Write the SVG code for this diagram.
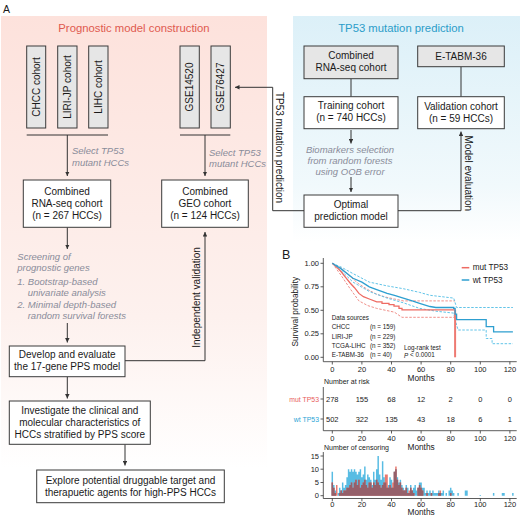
<svg xmlns="http://www.w3.org/2000/svg" width="520" height="519" viewBox="0 0 520 519">
<defs>
<linearGradient id="gPink" x1="0" y1="0" x2="0" y2="1">
<stop offset="0" stop-color="#fde2dc"/>
<stop offset="0.6" stop-color="#fdf1ee"/>
<stop offset="0.9" stop-color="#ffffff"/>
</linearGradient>
<linearGradient id="gBlue" x1="0" y1="0" x2="0" y2="1">
<stop offset="0" stop-color="#dcf0f8"/>
<stop offset="0.75" stop-color="#f1f9fc"/>
<stop offset="1" stop-color="#ffffff"/>
</linearGradient>
<marker id="ar" viewBox="0 0 6 6" refX="6" refY="3" markerWidth="4.5" markerHeight="4.5" markerUnits="userSpaceOnUse" orient="auto">
<path d="M0,0L6,3L0,6z" fill="#333"/>
</marker>
<style>
.box{fill:#fff;stroke:#3a3a3a;stroke-width:1}
.gbox{fill:#e6e6e6;stroke:#3a3a3a;stroke-width:1}
.t{font-family:"Liberation Sans",Arial,sans-serif;font-size:10px;fill:#1a1a1a;text-anchor:middle;dominant-baseline:central}
.it{font-style:italic;fill:#8a8c9a;font-size:9.5px}
.l{text-anchor:start}
.r{text-anchor:end}
.ln{stroke:#333;stroke-width:1;fill:none}
.ax{stroke:#333;stroke-width:0.8;fill:none}
.s{font-size:7.5px}
.xs{font-size:6.3px}
</style>
</defs>

<rect x="1" y="16" width="266" height="503" fill="url(#gPink)"/>
<rect x="293" y="16" width="227" height="226" fill="url(#gBlue)"/>

<text class="t l" x="3" y="9" style="font-size:10.5px">A</text>
<text class="t" x="134" y="28" style="font-size:11.3px;fill:#e05a4f">Prognostic model construction</text>
<text class="t" x="401" y="28" style="font-size:11.3px;fill:#2b9dc9">TP53 mutation prediction</text>

<g id="connectors">
<path class="ln" d="M26.7,135H108"/>
<path class="ln" d="M67.3,135V176" marker-end="url(#ar)"/>
<path class="ln" d="M180,135H230.3"/>
<path class="ln" d="M205,135V176" marker-end="url(#ar)"/>
<path class="ln" d="M67.3,227.3V249" marker-end="url(#ar)"/>
<path class="ln" d="M67.3,323V342.5" marker-end="url(#ar)"/>
<path class="ln" d="M125,360.7H205V232" marker-end="url(#ar)"/>
<path class="ln" d="M67.3,376.7V398.5" marker-end="url(#ar)"/>
<path class="ln" d="M125,444.3V465.5" marker-end="url(#ar)"/>
<path class="ln" d="M351,78.7V96.7"/>
<path class="ln" d="M461,66.7V96.7"/>
<path class="ln" d="M351,130V143.5" marker-end="url(#ar)"/>
<path class="ln" d="M351,177V192" marker-end="url(#ar)"/>
<path class="ln" d="M304,210.7H272.7V87.3H235" marker-end="url(#ar)"/>
<path class="ln" d="M398,210.7H461V131.5" marker-end="url(#ar)"/>
<text class="t it" x="72" y="150.7" style="text-anchor:start">Select TP53</text>
<text class="t it" x="72" y="162" style="text-anchor:start">mutant HCCs</text>
<text class="t it" x="209" y="152" style="text-anchor:start">Select TP53</text>
<text class="t it" x="209" y="163" style="text-anchor:start">mutant HCCs</text>
<text class="t it l" x="17.3" y="256.7">Screening of</text>
<text class="t it l" x="17.3" y="267.7">prognostic genes</text>
<text class="t it l" x="17.3" y="281">1. Bootstrap-based</text>
<text class="t it l" x="27.7" y="292.7">univariate analysis</text>
<text class="t it l" x="17.3" y="304">2. Minimal depth-based</text>
<text class="t it l" x="27.7" y="315.3">random survival forests</text>
<text class="t" transform="translate(196.7,297.5) rotate(-90)">Independent validation</text>
<text class="t" transform="translate(279.3,147.5) rotate(90)">TP53 mutation prediction</text>
<text class="t" transform="translate(468.3,173.3) rotate(90)">Model evaluation</text>
<text class="t it" x="350" y="149">Biomarkers selection</text>
<text class="t it" x="350" y="160.3">from random forests</text>
<text class="t it" x="350" y="171.7">using OOB error</text>
</g>

<g id="chcc"><rect class="gbox" x="26.7" y="46" width="19" height="82"/><text class="t" transform="translate(36.2,87) rotate(-90)">CHCC cohort</text></g>
<g id="liri"><rect class="gbox" x="57.7" y="46" width="19.3" height="82"/><text class="t" transform="translate(67.3,87) rotate(-90)">LIRI-JP cohort</text></g>
<g id="lihc"><rect class="gbox" x="88.7" y="46" width="19.3" height="82"/><text class="t" transform="translate(98.3,87) rotate(-90)">LIHC cohort</text></g>
<g id="gse14520"><rect class="gbox" x="180" y="46" width="19.3" height="82"/><text class="t" transform="translate(189.7,87) rotate(-90)">GSE14520</text></g>
<g id="gse76427"><rect class="gbox" x="211" y="46" width="19.3" height="82"/><text class="t" transform="translate(220.7,87) rotate(-90)">GSE76427</text></g>

<g id="rnaseq"><rect class="box" x="23.3" y="180" width="87.4" height="47.3"/>
<text class="t" x="67" y="191">Combined</text><text class="t" x="67" y="203">RNA-seq cohort</text><text class="t" x="67" y="215">(n = 267 HCCs)</text></g>
<g id="geo"><rect class="box" x="161.7" y="180" width="86.6" height="47.3"/>
<text class="t" x="205" y="191">Combined</text><text class="t" x="205" y="203">GEO cohort</text><text class="t" x="205" y="215">(n = 124 HCCs)</text></g>
<g id="develop"><rect class="box" x="9.3" y="346" width="115.7" height="30.7"/>
<text class="t" x="67.2" y="354.5">Develop and evaluate</text><text class="t" x="67.2" y="366.5">the 17-gene PPS model</text></g>
<g id="investigate"><rect class="box" x="9.3" y="401" width="141" height="43.3"/>
<text class="t" x="79.8" y="410">Investigate the clinical and</text><text class="t" x="79.8" y="422">molecular characteristics of</text><text class="t" x="79.8" y="434">HCCs stratified by PPS score</text></g>
<g id="explore"><rect class="box" x="36.7" y="470" width="187.6" height="32.7"/>
<text class="t" x="130.5" y="480.5">Explore potential druggable target and</text><text class="t" x="130.5" y="492.5">therapuetic agents for high-PPS HCCs</text></g>

<g id="combined-rnaseq"><rect class="gbox" x="304" y="46" width="94" height="32.7"/>
<text class="t" x="351" y="55">Combined</text><text class="t" x="351" y="67">RNA-seq cohort</text></g>
<g id="etabm"><rect class="gbox" x="417.7" y="46" width="86.6" height="20.7"/>
<text class="t" x="461" y="56.3">E-TABM-36</text></g>
<g id="training"><rect class="box" x="304" y="96.7" width="94" height="32"/>
<text class="t" x="351" y="105.5">Training cohort</text><text class="t" x="351" y="117.5">(n = 740 HCCs)</text></g>
<g id="validation"><rect class="box" x="417.7" y="96.7" width="86.6" height="32"/>
<text class="t" x="461" y="106">Validation cohort</text><text class="t" x="461" y="118">(n = 59 HCCs)</text></g>
<g id="optimal"><rect class="box" x="304" y="195" width="94" height="32.3"/>
<text class="t" x="351" y="204">Optimal</text><text class="t" x="351" y="216">prediction model</text></g>

<g id="panelB">
<text class="t l" x="282" y="255" style="font-size:12.5px">B</text>
<text class="t" transform="translate(295,311.7) rotate(-90)" style="font-size:8.3px">Survival probability</text>
<path class="ax" d="M323.3,258V361.7H516.7"/>
<path class="ax" d="M320.5,263.3H323.3M320.5,286.8H323.3M320.5,310.3H323.3M320.5,333.8H323.3M320.5,357.3H323.3"/>
<path class="ax" d="M332.3,361.7V364.5M361.9,361.7V364.5M391.5,361.7V364.5M421.1,361.7V364.5M450.7,361.7V364.5M480.3,361.7V364.5M509.9,361.7V364.5"/>
<g class="t s r" font-family="Liberation Sans,Arial,sans-serif">
<text class="t s r" x="319" y="263.3">1.00</text><text class="t s r" x="319" y="286.8">0.75</text><text class="t s r" x="319" y="310.3">0.50</text><text class="t s r" x="319" y="333.8">0.25</text><text class="t s r" x="319" y="357.3">0.00</text>
</g>
<text class="t s" x="332.3" y="369.5">0</text><text class="t s" x="361.9" y="369.5">20</text><text class="t s" x="391.5" y="369.5">40</text><text class="t s" x="421.1" y="369.5">60</text><text class="t s" x="450.7" y="369.5">80</text><text class="t s" x="480.3" y="369.5">100</text><text class="t s" x="509.9" y="369.5">120</text>
<text class="t" x="421.1" y="377.8" style="font-size:8.3px">Months</text>

<g fill="none" stroke-width="1" stroke-dasharray="2.5,1.5">
<polyline stroke="#f0908a" points="332.3,263.3 341.2,268 350.1,276.5 358.9,284 367.8,289.6 376.7,294.3 385.6,297.1 394.5,299 403.3,300.9 455.1,300.9"/>
<polyline stroke="#f0908a" points="332.3,263.3 341.2,275.5 350.1,288.7 358.9,300.9 367.8,305.6 376.7,308.4 385.6,310.3 394.5,312.2 401.9,317.3 455.1,317.3"/>
<polyline stroke="#62c4e8" points="332.3,263.3 341.2,267.1 353,273.6 369.3,282.1 387.1,285.9 403.3,288.7 419.6,292.4 430,295.3 453.7,298.1 456.6,307.5 512.9,307.5"/>
<path stroke="#62c4e8" d="M332.3,263.3L341.2,270.8L353,282.1L369.3,291.5L387.1,298.1L403.3,302.8L419.6,308.4L435.9,311.2L453.7,313.1L455.1,319.7L458.1,330H486.2V338.5H492.1V343.7H512.9"/>
</g>
<path fill="none" stroke="#ee6b63" stroke-width="1.3" d="M332.3,263.3L336.7,267.1L341.2,271.8L345.6,277.4L350.1,283L354.5,287.7L358.9,293.4L363.4,296.7L369.3,299L376.7,301.8H382V303.3H389V304.7H394V306.1H399V308.4H402V309.8H455.1"/>
<path fill="none" stroke="#ee7a72" stroke-width="2" d="M455.1,309.8V357.3"/>
<path fill="none" stroke="#2e9fd0" stroke-width="1.3" d="M332.3,263.3L341.2,268.9L353,278.3L361.9,282.1L369.3,286.8L376.7,289.6L387.1,293.4L394.5,295.3L403.3,298.1L412.2,300.9L419.6,303.3L430,306.5L435.9,307.5H453.7V308.4H455.1V314.1H456.6V319.7H486.2V326.7H493.6V331.9H512.9"/>

<path stroke="#ee6b63" stroke-width="1.5" d="M461.7,267.7H469.3"/>
<path stroke="#2e9fd0" stroke-width="1.5" d="M461.7,280H469.3"/>
<text class="t l" x="472.7" y="267.7" style="font-size:8.2px">mut TP53</text>
<text class="t l" x="472.7" y="280" style="font-size:8.2px">wt TP53</text>

<text class="t xs l" x="331.7" y="317.3">Data sources</text>
<text class="t xs l" x="331.7" y="326.7">CHCC</text><text class="t xs l" x="370" y="326.7">(n = 159)</text>
<text class="t xs l" x="331.7" y="336">LIRI-JP</text><text class="t xs l" x="370" y="336">(n = 229)</text>
<text class="t xs l" x="331.7" y="345.3">TCGA-LIHC</text><text class="t xs l" x="370" y="345.3">(n = 352)</text>
<text class="t xs l" x="331.7" y="354.7">E-TABM-36</text><text class="t xs l" x="370" y="354.7">(n = 40)</text>
<text class="t xs l" x="404" y="347">Log-rank test</text>
<text class="t xs l" x="404" y="354.5"><tspan font-style="italic">P</tspan> &lt; 0.0001</text>

<text class="t l" x="324" y="381" style="font-size:7px">Number at risk</text>
<path class="ax" d="M323.3,387V430.7H516.7M320.5,399H323.3M320.5,419H323.3"/>
<path class="ax" d="M332.3,430.7V433.5M361.9,430.7V433.5M391.5,430.7V433.5M421.1,430.7V433.5M450.7,430.7V433.5M480.3,430.7V433.5M509.9,430.7V433.5"/>
<text class="t r" x="319" y="399" style="font-size:6.9px;fill:#e8605a">mut TP53</text>
<text class="t r" x="319" y="419" style="font-size:6.9px;fill:#2ba5d6">wt TP53</text>
<text class="t s" x="332.3" y="399">278</text><text class="t s" x="361.9" y="399">155</text><text class="t s" x="391.5" y="399">68</text><text class="t s" x="421.1" y="399">12</text><text class="t s" x="450.7" y="399">2</text><text class="t s" x="480.3" y="399">0</text><text class="t s" x="509.9" y="399">0</text>
<text class="t s" x="332.3" y="419">502</text><text class="t s" x="361.9" y="419">322</text><text class="t s" x="391.5" y="419">135</text><text class="t s" x="421.1" y="419">43</text><text class="t s" x="450.7" y="419">18</text><text class="t s" x="480.3" y="419">6</text><text class="t s" x="509.9" y="419">1</text>
<text class="t s" x="332.3" y="438">0</text><text class="t s" x="361.9" y="438">20</text><text class="t s" x="391.5" y="438">40</text><text class="t s" x="421.1" y="438">60</text><text class="t s" x="450.7" y="438">80</text><text class="t s" x="480.3" y="438">100</text><text class="t s" x="509.9" y="438">120</text>
<text class="t" x="421.1" y="446.8" style="font-size:8.3px">Months</text>

<text class="t l" x="324" y="447.8" style="font-size:7px">Number of censoring</text>
<g transform="translate(332.3,495.7) scale(1.48,-2.65)">
<path fill="#58bce3" d="M-0.5 0V9H0.5V4H1.5V2H2.5V0H3.5V1H4.5V3H5.5V2H6.5V5H7.5V3H8.5V4H9.5V7H10.5V10H11.5V9H12.5V10H13.5V9H14.5V10H15.5V9H16.5V8H17.5V9H18.5V10H19.5V7H20.5V8H21.5V11H22.5V6H23.5V8H24.5V7H25.5V6H26.5V4H27.5V9H28.5V6H29.5V10H30.5V15H31.5V8H32.5V6H33.5V13H34.5V7H35.5V5H36.5V3H37.5V4H38.5V7H39.5V6H40.5V3H41.5V9H42.5V10H43.5V7H44.5V5H45.5V6H46.5V4H47.5V3H48.5V2H49.5V4H50.5V3H51.5V1H52.5V4H53.5V2H54.5V3H55.5V4H56.5V2H57.5V3H58.5V5H60.5V3H62.5V1H63.5V2H64.5V1H65.5V2H66.5V1H67.5V2H68.5V1H71.5V2H72.5V1H74.5V2H75.5V0H76.5V1H77.5V0H78.5V2H79.5V3H80.5V2H81.5V1H82.5V0H84.5V1H85.5V0H89.5V2H91.5V0H99.5V0.3H100.5V0H108.5V1H109.5V0H114.5V1H116.5V0H121.5V1H122.5V0Z"/>
<path fill="#e97a70" d="M-0.5 0V5H0.5V3H1.5V1H2.5V4H3.5V0H4.5V1H5.5V2H6.5V1H7.5V2H9.5V3H11.5V4H12.5V5H13.5V3H14.5V5H15.5V6H16.5V4H17.5V6H18.5V3H19.5V4H20.5V5H21.5V6H22.5V4H23.5V3H24.5V5H26.5V3H27.5V5H28.5V4H29.5V6H30.5V5H31.5V4H32.5V3H33.5V4H34.5V5H35.5V8H37.5V3H38.5V4H39.5V3H40.5V5H41.5V9H42.5V11H43.5V6H44.5V4H45.5V5H46.5V3H47.5V2H49.5V3H50.5V1H51.5V2H52.5V3H53.5V2H54.5V1H55.5V0H57.5V3H58.5V4H59.5V3H60.5V2H61.5V0H63.5V1H64.5V0H66.5V1H67.5V0H71.5V1H72.5V2H73.5V0H79.5V1H80.5V0Z"/>
<path fill="#95606a" d="M-0.5 0V5H0.5V3H1.5V1H2.5V0H4.5V1H5.5V2H6.5V1H7.5V2H9.5V3H11.5V4H12.5V5H13.5V3H14.5V5H15.5V6H16.5V4H17.5V6H18.5V3H19.5V4H20.5V5H21.5V6H22.5V4H23.5V3H24.5V5H26.5V3H27.5V5H28.5V4H29.5V6H30.5V5H31.5V4H32.5V3H33.5V4H34.5V5H36.5V3H38.5V4H39.5V3H41.5V9H42.5V10H43.5V6H44.5V4H45.5V5H46.5V3H47.5V2H49.5V3H50.5V1H52.5V3H53.5V2H54.5V1H55.5V0H57.5V3H58.5V4H59.5V3H60.5V2H61.5V0H63.5V1H64.5V0H66.5V1H67.5V0H71.5V1H73.5V0H79.5V1H80.5V0Z"/>
</g>
<path class="ax" d="M323.3,452V498.5H516.7M320.5,456H323.3M320.5,469.2H323.3M320.5,482.5H323.3M320.5,495.7H323.3"/>
<path class="ax" d="M332.3,498.5V501.3M361.9,498.5V501.3M391.5,498.5V501.3M421.1,498.5V501.3M450.7,498.5V501.3M480.3,498.5V501.3M509.9,498.5V501.3"/>
<text class="t s r" x="319" y="456">15</text><text class="t s r" x="319" y="469.2">10</text><text class="t s r" x="319" y="482.5">5</text><text class="t s r" x="319" y="495.7">0</text>
<text class="t s" x="332.3" y="504">0</text><text class="t s" x="361.9" y="504">20</text><text class="t s" x="391.5" y="504">40</text><text class="t s" x="421.1" y="504">60</text><text class="t s" x="450.7" y="504">80</text><text class="t s" x="480.3" y="504">100</text><text class="t s" x="509.9" y="504">120</text>
<text class="t" x="421.1" y="512.3" style="font-size:8.3px">Months</text>
</g>
</svg>
